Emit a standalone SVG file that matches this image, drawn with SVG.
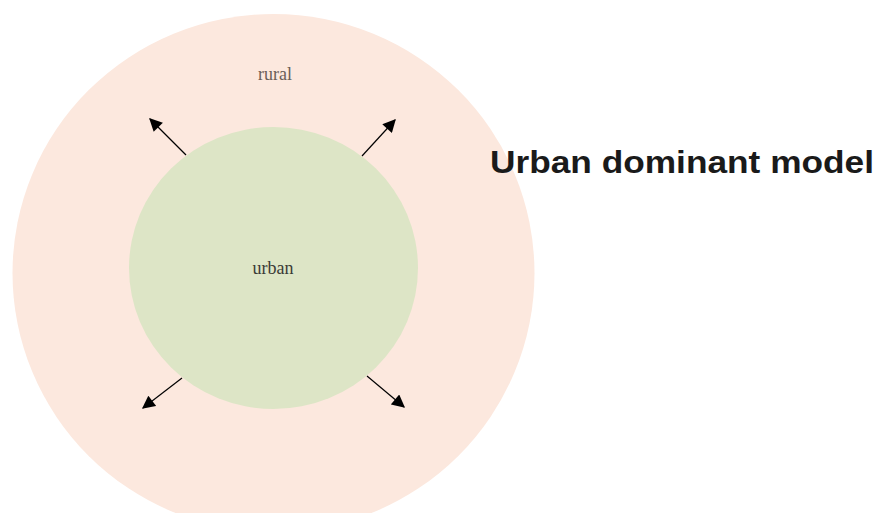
<svg xmlns="http://www.w3.org/2000/svg" width="877" height="513" viewBox="0 0 877 513">
  <defs>
    <marker id="arrow" viewBox="0 0 10 10" refX="9" refY="5" markerWidth="14" markerHeight="13" markerUnits="userSpaceOnUse" orient="auto">
      <path d="M0,0 L10,5 L0,10 Z" fill="#000"/>
    </marker>
    <style>
      .label { font-family: "Liberation Serif", "DejaVu Serif", serif; font-size: 18px; text-anchor: middle; }
      .conn line { stroke: #000; stroke-width: 1.2; marker-end: url(#arrow); }
    </style>
  </defs>
  <rect width="877" height="513" fill="#fff"/>

  <g id="rural">
    <ellipse cx="273.5" cy="273" rx="261" ry="259" fill="#fce8de"/>
    <text class="label" x="275" y="80" fill="#6b5e57">rural</text>
  </g>

  <g id="urban">
    <ellipse cx="273.5" cy="268" rx="144.5" ry="141" fill="#dde5c6"/>
    <text class="label" x="273" y="274" fill="#3a3a36">urban</text>
  </g>

  <g id="connectors" class="conn">
    <line x1="186" y1="155" x2="150" y2="119"/>
    <line x1="362" y1="156" x2="395" y2="120"/>
    <line x1="182" y1="378" x2="143" y2="408"/>
    <line x1="367" y1="376" x2="404" y2="407"/>
  </g>

  <g id="title">
    <text x="490" y="173" font-family="'Liberation Sans', 'DejaVu Sans', sans-serif" font-weight="bold" font-size="31" fill="#1a1a1a" textLength="384" lengthAdjust="spacingAndGlyphs">Urban dominant model</text>
  </g>
</svg>
